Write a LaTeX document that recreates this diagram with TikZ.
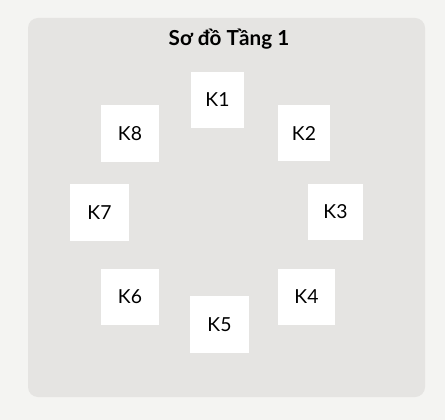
\documentclass[tikz,border=0pt]{standalone}
\usepackage{fontspec}
\setmainfont{Lato}
\definecolor{pagebg}{HTML}{F4F4F2}
\definecolor{panelbg}{HTML}{E5E4E2}
\begin{document}
\begin{tikzpicture}[x=0.75pt,y=-0.75pt,
  room/.style={fill=white,draw=none,inner sep=0pt,font=\fontsize{14.5pt}{16pt}\selectfont},
]
\fill[pagebg] (0,0) rectangle (445,420);
\useasboundingbox (0,0) rectangle (445,420);
\fill[panelbg,rounded corners=7.5pt] (28,18) rectangle (425,397);
\node[anchor=base,font=\fontsize{15.5pt}{17pt}\selectfont\bfseries] (title) at (229,46) {Sơ đồ Tầng 1};
\node[room,minimum width=53*0.75pt,minimum height=56*0.75pt] (k1) at (217.5,100) {K1};
\node[room,minimum width=52*0.75pt,minimum height=56*0.75pt] (k2) at (304,133) {K2};
\node[room,minimum width=55*0.75pt,minimum height=56*0.75pt] (k3) at (335.5,212) {K3};
\node[room,minimum width=57*0.75pt,minimum height=56*0.75pt] (k4) at (306.5,297) {K4};
\node[room,minimum width=59*0.75pt,minimum height=57*0.75pt] (k5) at (219.5,324.5) {K5};
\node[room,minimum width=58*0.75pt,minimum height=56*0.75pt] (k6) at (130,297) {K6};
\node[room,minimum width=59*0.75pt,minimum height=57*0.75pt] (k7) at (99.5,212.5) {K7};
\node[room,minimum width=58*0.75pt,minimum height=57*0.75pt] (k8) at (130,133.5) {K8};
\end{tikzpicture}
\end{document}
